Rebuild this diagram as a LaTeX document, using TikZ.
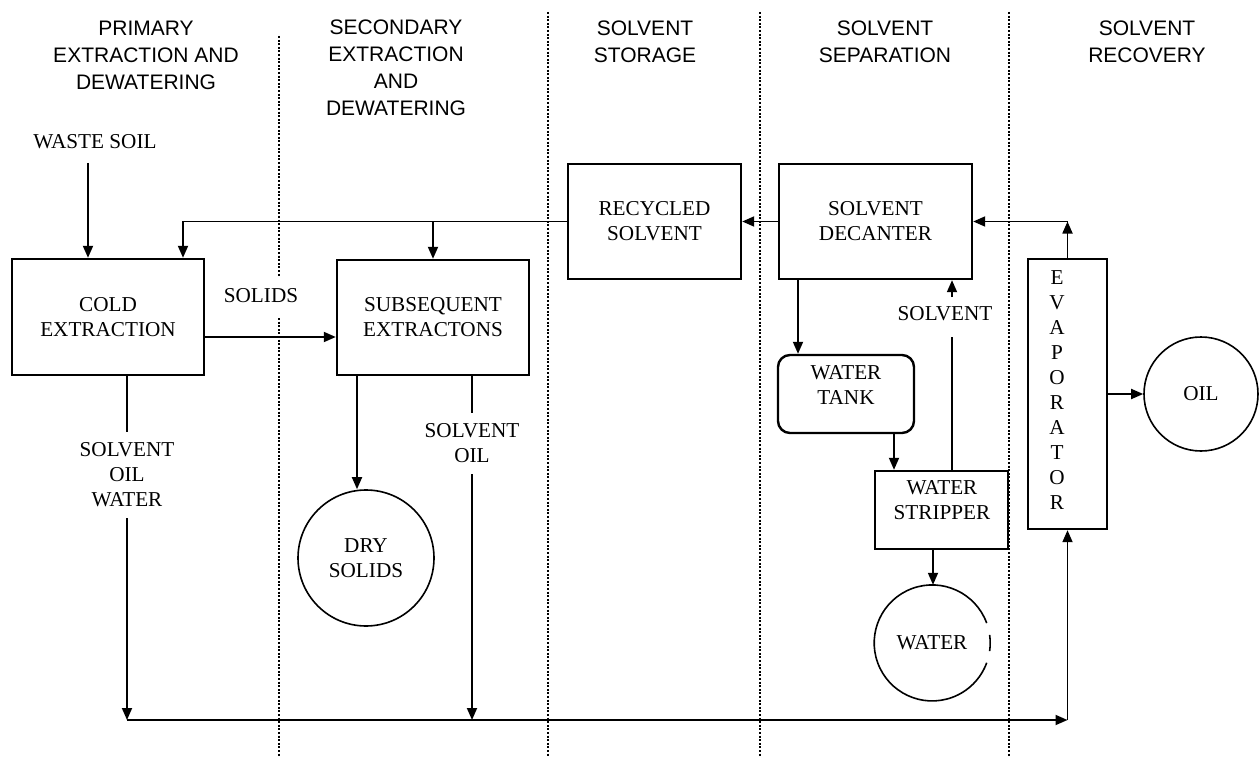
\documentclass[tikz,border=0pt]{standalone}
\usepackage{fontspec}
\setmainfont{Liberation Serif}
\newfontfamily\hdrfont{Liberation Sans}
\usetikzlibrary{arrows.meta}
\newcommand\mybody{\fontsize{21.2}{25}\selectfont}
\newcommand\myhdr{\hdrfont\fontsize{21}{27}\selectfont}
\begin{document}
\begin{tikzpicture}[x=1pt,y=-1pt,
  box/.style={draw,line width=2.4pt,rectangle,inner sep=0pt,font=\mybody,align=center},
  txt/.style={font=\mybody,align=center,inner sep=2pt},
  gaplbl/.style={font=\mybody,align=center,inner sep=11pt},
  hdr/.style={font=\myhdr,align=center,inner sep=0pt},
  circ/.style={draw,circle,line width=1.6pt,inner sep=0pt,font=\mybody,align=center},
  circline/.style={line width=1.6pt},
  conn/.style={line width=1.8pt},
  arr/.style={conn,-{Triangle[length=12pt,width=10pt]}},
  divider/.style={line width=2.6pt,dash pattern=on 2pt off 1.6pt}]
\useasboundingbox (0,0) rectangle (1259,757);

% headers
\node[hdr] (h1) at (146,55) {PRIMARY\\EXTRACTION AND\\DEWATERING};
\node[hdr] (h2) at (396,68) {SECONDARY\\EXTRACTION\\AND\\DEWATERING};
\node[hdr] (h3) at (645,41.5) {SOLVENT\\STORAGE};
\node[hdr] (h4) at (885,41.5) {SOLVENT\\SEPARATION};
\node[hdr] (h5) at (1147,41.5) {SOLVENT\\RECOVERY};

% dividers
\draw[divider] (279,36) -- (279,277);
\draw[divider] (279,318) -- (279,757);
\draw[divider] (548,12) -- (548,757);
\draw[divider] (760,12) -- (760,757);
\draw[divider] (1009,12) -- (1009,757);

% boxes
\node[box, minimum width=192pt, minimum height=116pt] (cold) at (108,317) {COLD\\EXTRACTION};
\node[box, minimum width=192pt, minimum height=115pt] (subs) at (433,317.5) {SUBSEQUENT\\EXTRACTONS};
\node[box, minimum width=173pt, minimum height=115pt] (recyc) at (654.5,221.5) {RECYCLED\\SOLVENT};
\node[box, minimum width=193pt, minimum height=115pt] (decant) at (875.5,221.5) {SOLVENT\\DECANTER};
\node[box, rounded corners=12pt, minimum width=136pt, minimum height=78pt] (tank) at (846,394) {};
\node[txt] (tanktxt) at (846,385.5) {WATER\\TANK};
\node[box, minimum width=133pt, minimum height=78pt] (strip) at (941.5,510) {};
\node[txt] (striptxt) at (942,500.5) {WATER\\STRIPPER};
\node[box, minimum width=79pt, minimum height=270pt] (evap) at (1067.5,394) {};
\node[txt] (evaptxt) at (1057,390.5) {E\\V\\A\\P\\O\\R\\A\\T\\O\\R};

% circles
\node[circ, minimum size=114pt] (oil) at (1201,394) {OIL};
\node[circ, minimum size=136pt] (dry) at (366,558) {DRY\\SOLIDS};
\node[circle, minimum size=116pt, inner sep=0pt, font=\mybody] (water) at (932,643) {WATER};
\draw[circline] (water.20) arc[start angle=20, end angle=340, radius=58pt];
\draw[circline] (water.-8) arc[start angle=-8, end angle=8, radius=58pt];

% labels
\node[txt] (waste) at (95,141.5) {WASTE SOIL};
\node[txt] (solids) at (261,295.5) {SOLIDS};
\node[gaplbl] (sow) at (127,475) {SOLVENT\\OIL\\WATER};
\node[gaplbl] (so) at (472,443.5) {SOLVENT\\OIL};
\node[txt] (solv) at (945,314) {SOLVENT};

% connectors
\coordinate (ws) at (88,163);
\draw[arr] (ws) -- (ws |- cold.north);
\coordinate (rc) at (183,221.5);
\draw[arr] (recyc.west) -| (rc |- cold.north);
\draw[arr] (subs.north |- recyc.west) -- (subs.north);
\draw[arr] (decant.west) -- (recyc.east);
\coordinate (ec) at (evap.north |- decant.east);
\draw[arr] (evap.north) -- (ec);
\draw[arr] (ec) -- (decant.east);
\draw[arr] ([yshift=-20pt]cold.east) -- ([yshift=-20pt]cold.east -| subs.west);

\coordinate (b1) at (127,720);
\coordinate (b2) at (472,720);
\coordinate (b3) at (1067.5,720);
\draw[conn] (cold.south -| b1) -- (sow.north);
\draw[arr] (sow.south) -- (b1);
\draw[conn] (subs.south -| b2) -- (so.north);
\draw[arr] (so.south) -- (b2);
\draw[arr] (b1) -- (b3);
\draw[arr] (b3) -- (evap.south);

\coordinate (dx) at (357,0);
\draw[arr] (subs.south -| dx) -- (dry.north -| dx);
\coordinate (dt) at (798,0);
\draw[arr] (decant.south -| dt) -- (tank.north -| dt);
\coordinate (ts) at (894,0);
\draw[arr] (tank.south -| ts) -- (strip.north -| ts);
\coordinate (sv1) at (952,337);
\coordinate (sv2) at (952,297);
\draw[conn] (strip.north -| sv1) -- (sv1);
\draw[arr] (sv2) -- (decant.south -| sv2);
\coordinate (sw) at (933,0);
\draw[arr] (strip.south -| sw) -- (water.north -| sw);
\draw[arr] (evap.east |- oil.west) -- (oil.west);
\end{tikzpicture}
\end{document}
